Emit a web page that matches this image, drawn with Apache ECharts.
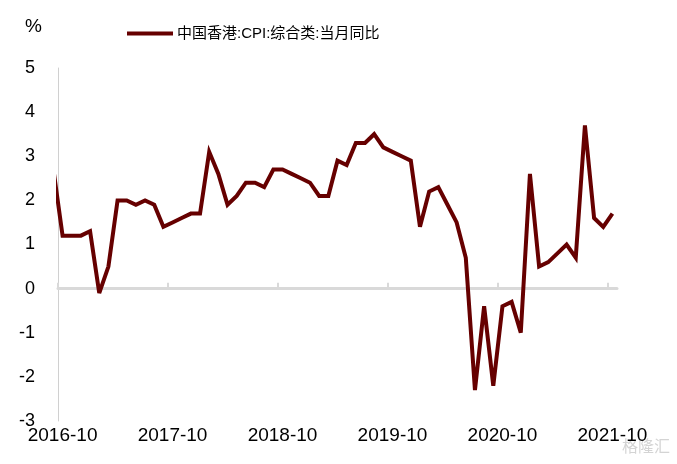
<!DOCTYPE html>
<html>
<head>
<meta charset="utf-8">
<script src="https://cdn.jsdelivr.net/npm/echarts@6/dist/echarts.min.js"></script>
<style>
  html, body { margin: 0; padding: 0; background: #fff; }
  #chart { width: 677px; height: 464px; }
</style>
</head>
<body>
<div id="chart"></div>
<script>
// months shown on the chart (2016-09 is only half visible, cut by the y axis)
const months = [
  '2016-09', '2016-10', '2016-11', '2016-12',
  '2017-01', '2017-02', '2017-03', '2017-04', '2017-05', '2017-06', '2017-07', '2017-08', '2017-09', '2017-10', '2017-11', '2017-12',
  '2018-01', '2018-02', '2018-03', '2018-04', '2018-05', '2018-06', '2018-07', '2018-08', '2018-09', '2018-10', '2018-11', '2018-12',
  '2019-01', '2019-02', '2019-03', '2019-04', '2019-05', '2019-06', '2019-07', '2019-08', '2019-09', '2019-10', '2019-11', '2019-12',
  '2020-01', '2020-02', '2020-03', '2020-04', '2020-05', '2020-06', '2020-07', '2020-08', '2020-09', '2020-10', '2020-11', '2020-12',
  '2021-01', '2021-02', '2021-03', '2021-04', '2021-05', '2021-06', '2021-07', '2021-08', '2021-09', '2021-10'
];
// 中国香港:CPI:综合类:当月同比 (%)
const cpiValues = [
  2.7, 1.2, 1.2, 1.2,
  1.3, -0.1, 0.5, 2.0, 2.0, 1.9, 2.0, 1.9, 1.4, 1.5, 1.6, 1.7,
  1.7, 3.1, 2.6, 1.9, 2.1, 2.4, 2.4, 2.3, 2.7, 2.7, 2.6, 2.5,
  2.4, 2.1, 2.1, 2.9, 2.8, 3.3, 3.3, 3.5, 3.2, 3.1, 3.0, 2.9,
  1.4, 2.2, 2.3, 1.9, 1.5, 0.7, -2.3, -0.4, -2.2, -0.4, -0.3, -1.0,
  2.6, 0.5, 0.6, 0.8, 1.0, 0.7, 3.7, 1.6, 1.4, 1.7
];
const xLabels = ['2016-10', '2017-10', '2018-10', '2019-10', '2020-10', '2021-10'];
const yTicks = [-3, -2, -1, 0, 1, 2, 3, 4, 5];
const seriesName = '中国香港:CPI:综合类:当月同比';

// x position of a month = index - 0.5, so the year boundaries fall on 0, 12, 24 ...
const points = months.map((m, i) => [i - 0.5, cpiValues[i]]);
const labelPos = xLabels.map(l => months.indexOf(l) - 0.5);
const tickPos = labelPos.map(v => v - 0.5);
const xMax = months.length - 1;

const chart = echarts.init(document.getElementById('chart'));
chart.setOption({
  animation: false,
  textStyle: { fontFamily: '"Liberation Sans", Arial, "Noto Sans CJK SC", sans-serif' },
  grid: { left: 58, right: 60, top: 68, bottom: 43, containLabel: false },
  legend: {
    data: [seriesName],
    left: 122,
    top: 21,
    icon: 'rect',
    itemWidth: 46,
    itemHeight: 4,
    itemGap: 10,
    textStyle: { fontSize: 15, color: '#000', padding: [0, 0, 0, -1] }
  },
  graphic: [
    { type: 'text', left: 25, top: 17, style: { text: '%', fontSize: 19, fill: '#000', fontFamily: '"Liberation Sans", Arial' } },
    { type: 'text', left: 622, top: 438, style: { text: '格隆汇', fontSize: 16, fill: '#d4d4d4', fontFamily: '"Noto Sans CJK SC"' } }
  ],
  xAxis: [
    {
      type: 'value',
      min: 0,
      max: xMax,
      position: 'bottom',
      axisLine: { show: false, onZero: false },
      axisTick: { show: false },
      splitLine: { show: false },
      axisLabel: {
        customValues: labelPos,
        formatter: v => months[Math.round(v + 0.5)],
        fontSize: 19,
        color: '#000',
        margin: 5
      }
    },
    {
      type: 'value',
      min: 0,
      max: xMax,
      position: 'bottom',
      axisLine: { show: true, onZero: true, lineStyle: { color: '#d9d9d9', width: 3 } },
      axisTick: { show: true, inside: true, length: 6, customValues: tickPos, lineStyle: { color: '#d9d9d9', width: 2 } },
      axisLabel: { show: false },
      splitLine: { show: false }
    }
  ],
  yAxis: {
    type: 'value',
    min: yTicks[0],
    max: yTicks[yTicks.length - 1],
    interval: 1,
    axisLine: { show: true, onZero: false, lineStyle: { color: '#d0d0d0', width: 1 } },
    axisTick: { show: false },
    splitLine: { show: false },
    axisLabel: { fontSize: 18, color: '#000', margin: 23 }
  },
  series: [{
    name: seriesName,
    type: 'line',
    xAxisIndex: 0,
    data: points,
    showSymbol: false,
    clip: true,
    color: '#660000',
    lineStyle: { width: 4, color: '#660000', join: 'miter', miterLimit: 4 }
  }]
});
</script>
</body>
</html>
